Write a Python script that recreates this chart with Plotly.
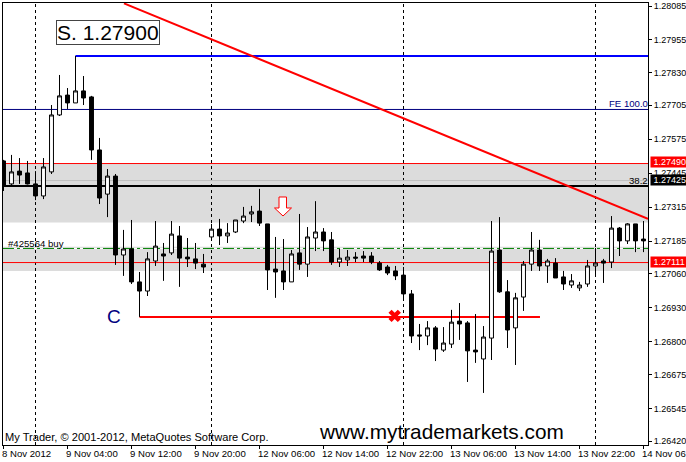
import plotly.graph_objects as go

candle_index = list(range(81))
opens = [1.27492,1.27404,1.27453,1.27446,1.27404,1.27358,1.27450,1.27668,1.27744,1.27714,
         1.27760,1.27737,1.27534,1.27365,1.27434,1.27132,1.27155,1.27029,1.26994,1.27109,
         1.27136,1.27140,1.27205,1.27124,1.27117,1.27097,1.27201,1.27231,1.27205,1.27220,
         1.27262,1.27289,1.27300,1.27251,1.27078,1.27071,1.27029,1.27140,1.27097,1.27197,
         1.27220,1.27190,1.27105,1.27113,1.27124,1.27128,1.27128,1.27101,1.27086,1.27071,
         1.27055,1.26983,1.26826,1.26822,1.26853,1.26768,1.26791,1.26879,1.26872,1.26768,
         1.26734,1.26814,1.27151,1.26991,1.26853,1.26971,1.27097,1.27151,1.27090,1.27101,
         1.27048,1.27017,1.27006,1.27021,1.27090,1.27109,1.27105,1.27235,1.27186,1.27251,
         1.27193]
highs = [1.27496,1.27515,1.27503,1.27492,1.27453,1.27503,1.27706,1.27821,1.27771,1.27894,
         1.27817,1.27741,1.27580,1.27461,1.27442,1.27228,1.27266,1.27067,1.27143,1.27262,
         1.27178,1.27262,1.27243,1.27197,1.27178,1.27136,1.27251,1.27270,1.27254,1.27266,
         1.27316,1.27320,1.27385,1.27251,1.27201,1.27193,1.27151,1.27289,1.27239,1.27338,
         1.27235,1.27220,1.27155,1.27151,1.27143,1.27147,1.27143,1.27109,1.27094,1.27090,
         1.27086,1.26998,1.26868,1.26879,1.26860,1.26856,1.26922,1.26948,1.26879,1.26906,
         1.26860,1.27262,1.27277,1.27036,1.26987,1.27109,1.27220,1.27190,1.27117,1.27120,
         1.27071,1.27059,1.27029,1.27113,1.27159,1.27117,1.27281,1.27239,1.27254,1.27251,
         1.27262]
lows = [1.27377,1.27400,1.27404,1.27402,1.27342,1.27346,1.27442,1.27664,1.27691,1.27714,
        1.27706,1.27496,1.27327,1.27277,1.27094,1.27052,1.27021,1.26895,1.26975,1.27090,
        1.27033,1.27132,1.27010,1.27086,1.27078,1.27063,1.27190,1.27170,1.27178,1.27216,
        1.27254,1.27258,1.27243,1.26998,1.26968,1.26998,1.27029,1.27075,1.27048,1.27147,
        1.27147,1.27094,1.27086,1.27090,1.27105,1.27105,1.27097,1.27071,1.27055,1.27036,
        1.26964,1.26795,1.26768,1.26787,1.26726,1.26761,1.26776,1.26807,1.26646,1.26719,
        1.26604,1.26730,1.26987,1.26776,1.26711,1.26918,1.27071,1.27071,1.27025,1.27044,
        1.26998,1.27006,1.26994,1.27010,1.27055,1.27025,1.27082,1.27128,1.27174,1.27143,
        1.27143]
closes = [1.27400,1.27450,1.27438,1.27404,1.27358,1.27469,1.27668,1.27741,1.27714,1.27760,
          1.27733,1.27534,1.27350,1.27434,1.27132,1.27155,1.27029,1.26994,1.27117,1.27166,
          1.27128,1.27212,1.27120,1.27117,1.27101,1.27086,1.27231,1.27205,1.27216,1.27266,
          1.27281,1.27297,1.27254,1.27075,1.27067,1.27029,1.27136,1.27097,1.27201,1.27220,
          1.27186,1.27105,1.27120,1.27124,1.27120,1.27120,1.27105,1.27075,1.27063,1.27052,
          1.26983,1.26822,1.26822,1.26853,1.26772,1.26795,1.26875,1.26868,1.26765,1.26761,
          1.26818,1.27147,1.26991,1.26845,1.26968,1.27097,1.27151,1.27090,1.27109,1.27044,
          1.27021,1.27033,1.27017,1.27090,1.27101,1.27101,1.27235,1.27186,1.27251,1.27186,
          1.27186]

y_ticks = [1.28085,1.27955,1.27830,1.27705,1.27575,1.27445,1.27315,1.27185,1.27060,1.26930,1.26800,1.26675,1.26545,1.26420]
x_tick_index = [0,8,16,24,32,40,48,56,64,72,80]
x_tick_labels = ["8 Nov 2012","9 Nov 04:00","9 Nov 12:00","9 Nov 20:00","12 Nov 06:00","12 Nov 14:00",
                 "12 Nov 22:00","13 Nov 06:00","13 Nov 14:00","13 Nov 22:00","14 Nov 06:00"]
day_breaks = [4,26,50,74]
bands = [(1.27482,1.27256),(1.27164,1.27071)]
level_blue = 1.27894
level_fe = 1.27689
level_red_top = 1.27482
level_red_low = 1.27103
level_black = 1.27396
level_grey = 1.27417
level_order = 1.27157
level_c = 1.26895
trend_x = [15.06,80.56]
trend_y = [1.28095,1.27270]
price_tags = [("1.27490",1.27488,"#ff0000"),("1.27425",1.27420,"#000000"),("1.27111",1.27106,"#ff0000")]

L, R, T, B = 3, 648, 3, 445
W, H = 686, 462
UI = "Liberation Sans"
px = lambda v: (v - L) / (R - L)
py = lambda v: (B - v) / (B - T)

fig = go.Figure()
fig.add_trace(go.Candlestick(
    x=candle_index, open=opens, high=highs, low=lows, close=closes,
    whiskerwidth=0, hoverinfo="skip", showlegend=False,
    increasing=dict(fillcolor="#ffffff", line=dict(color="#000000", width=1)),
    decreasing=dict(fillcolor="#000000", line=dict(color="#000000", width=1)),
))
fig.add_trace(go.Scatter(x=[48.9], y=[1.26899], mode="markers", hoverinfo="skip", showlegend=False,
                         marker=dict(symbol="x", size=11, color="#ff0000", line=dict(width=0))))

shapes = []
for a, b in bands:
    shapes.append(dict(type="rect", xref="paper", x0=0, x1=1, yref="y", y0=a, y1=b,
                       fillcolor="#dcdcdc", line=dict(width=0), layer="below"))
def hline(y, color, width, dash="solid", x0=-0.0625, x1=80.5625):
    shapes.append(dict(type="line", xref="x", x0=x0, x1=x1, yref="y", y0=y, y1=y,
                       line=dict(color=color, width=width, dash=dash), layer="below"))
for d in day_breaks:
    shapes.append(dict(type="line", xref="x", x0=d, x1=d, yref="paper", y0=0, y1=1,
                       line=dict(color="#000000", width=1, dash="3px,3px"), layer="below"))
hline(level_grey, "#c0c0c0", 1)
hline(level_order, "#ffffff", 1)
hline(level_order, "#008000", 1, "11px,3px,3px,3px")
hline(level_fe, "#000080", 1)
hline(level_red_top, "#ff0000", 1)
hline(level_red_low, "#ff0000", 1)
hline(level_black, "#000000", 2)
hline(level_blue, "#0000ff", 2, x0=9)
hline(level_c, "#ff0000", 2, x0=17, x1=67.06)
shapes.append(dict(type="line", xref="x", x0=trend_x[0], x1=trend_x[1], yref="y", y0=trend_y[0], y1=trend_y[1],
                   line=dict(color="#ff0000", width=2), layer="below"))
arrow = [(279,197),(286.5,197),(286.5,208),(291.5,208),(283,216),(274.5,208),(279,208)]
shapes.append(dict(type="path", xref="paper", yref="paper", layer="above",
                   path="M " + " L ".join(f"{px(x):.5f},{py(y):.5f}" for x, y in arrow) + " Z",
                   fillcolor="#ffffff", line=dict(color="#ff0000", width=1)))

ann = []
def note(text, x, y, size, color="#000000", xa="left", ya="middle", **kw):
    ann.append(dict(text=text, xref="paper", yref="paper", x=px(x), y=py(y), xanchor=xa, yanchor=ya,
                    showarrow=False, font=dict(family=UI, size=size, color=color), borderpad=0, **kw))

for i, lab in zip(x_tick_index, x_tick_labels):
    note(lab, 3.5 + 8 * i - 3, 454, 9.6)
note("S. 1.27900", 107.5, 32.5, 21, xa="center", bordercolor="#444444", borderwidth=1, bgcolor="#ffffff")
note("C", 114, 317, 19, color="#000080", xa="center")
note("FE 100.0", 649, 104, 9.6, color="#000080", xa="right")
note("38.2", 649, 180.5, 9.6, xa="right")
note("#425564 buy", 7, 243, 9.6)
note("My Trader, © 2001-2012, MetaQuotes Software Corp.", 3.5, 437, 11.1)
note("www.mytrademarkets.com", 318, 431, 20.8)
for text, price, col in price_tags:
    ann.append(dict(text="&nbsp;" + text, xref="paper", yref="y", x=px(650), y=price, xanchor="left", yanchor="middle",
                    showarrow=False, width=36, height=10, align="left", bgcolor=col, borderpad=0,
                    font=dict(family=UI, size=9, color="#ffffff")))

fig.update_layout(
    width=W, height=H, margin=dict(l=L, r=W - R, t=T, b=H - B, pad=0, autoexpand=False),
    paper_bgcolor="#ffffff", plot_bgcolor="#ffffff", showlegend=False,
    shapes=shapes, annotations=ann, hovermode=False, dragmode=False,
    xaxis=dict(range=[-0.0625, 80.5625], rangeslider=dict(visible=False), showgrid=False, zeroline=False,
               tickmode="array", tickvals=x_tick_index, ticktext=[""] * len(x_tick_index),
               ticks="outside", ticklen=3, tickcolor="#000000", tickwidth=1,
               showline=True, linecolor="#000000", linewidth=1, mirror=True),
    yaxis=dict(range=[1.264047, 1.280965], side="right", showgrid=False, zeroline=False,
               tickmode="array", tickvals=y_ticks, ticktext=[f"{v:.5f}" for v in y_ticks],
               ticks="outside", ticklen=3, tickcolor="#000000", tickwidth=1,
               tickfont=dict(family=UI, size=9, color="#000000"),
               showline=True, linecolor="#000000", linewidth=1, mirror=True),
)
fig.write_html("out.html", config=dict(displayModeBar=False),
               post_script="document.body.style.margin='0';document.body.style.overflow='hidden';")
